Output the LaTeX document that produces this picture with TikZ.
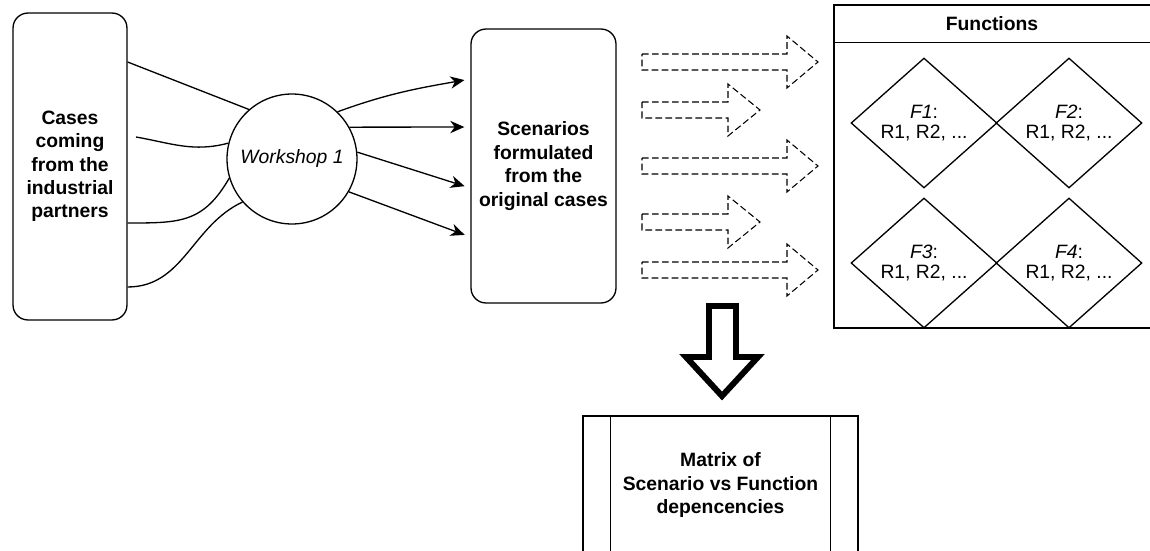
\documentclass[tikz,border=0pt]{standalone}
\usepackage{fontspec}
\setmainfont{Liberation Sans}
\usetikzlibrary{shapes.geometric,arrows.meta,positioning,calc}

\begin{document}
\begin{tikzpicture}[
  x=0.02cm, y=-0.02cm,
  line width=0.75pt,
  every node/.style={font=\fontsize{11}{13.3}\selectfont},
  roundbox/.style={rectangle, draw, rounded corners=0.3cm, align=center,
                   inner sep=0pt, font=\fontsize{11}{13.3}\selectfont\bfseries},
  hub/.style={circle, draw, minimum size=2.6cm, inner sep=0pt,
              font=\fontsize{11}{13}\selectfont\itshape},
  fnbox/.style={rectangle, draw, inner sep=0pt,
                minimum width=6.42cm, minimum height=6.46cm},
  fn/.style={diamond, draw, inner sep=0pt, align=center,
             minimum width=2.92cm, minimum height=2.6cm,
             font=\fontsize{11}{11.6}\selectfont},
  mtxbox/.style={rectangle, draw, align=center, inner sep=0pt,
                 minimum width=5.5cm, minimum height=2.76cm,
                 font=\fontsize{11}{13.3}\selectfont\bfseries},
  flow/.style={draw, line width=0.6pt, dash pattern=on 3.8pt off 1.9pt},
  bigarrow/.style={draw, line width=3.4pt, line join=miter},
  link/.style={draw},
  edge/.style={draw, -{Stealth[length=8pt, width=7pt, inset=2.5pt]},
               shorten >=0.12cm},
]
  \useasboundingbox (0,0) rectangle (1150,551);
  \clip (0,0) rectangle (1150,551);

  % input cases and the workshop
  \node[roundbox, minimum width=2.28cm, minimum height=6.14cm] (cases)
       at (70,166.5) {Cases\\ coming\\ from the\\ industrial\\ partners};
  \node[hub] (ws) at (292,159) {Workshop 1};
  \node[roundbox, minimum width=2.9cm, minimum height=5.48cm] (scen)
       at (543.5,166) {Scenarios\\ formulated\\ from the\\ original cases};

  % functions panel
  \node[fnbox] (func) at (994.5,166.5) {};
  \node[font=\fontsize{11}{13}\selectfont\bfseries] (fhead) at (992,24) {Functions};
  \draw ([yshift=-0.76cm]func.north west) -- ([yshift=-0.76cm]func.north east);
  \node[fn] (f1) at (924,123)  {\textit{F1}:\\ R1, R2, ...};
  \node[fn] (f2) at (1069,123) {\textit{F2}:\\ R1, R2, ...};
  \node[fn] (f3) at (924,263)  {\textit{F3}:\\ R1, R2, ...};
  \node[fn] (f4) at (1069,263) {\textit{F4}:\\ R1, R2, ...};

  % result matrix
  \node[mtxbox] (mtx) at (720.5,485)
       {Matrix of\\ Scenario vs Function\\ depencencies};
  \draw ([xshift=0.56cm]mtx.north west) -- ([xshift=0.56cm]mtx.south west);
  \draw ([xshift=-0.56cm]mtx.north east) -- ([xshift=-0.56cm]mtx.south east);

  % cases into the workshop
  \coordinate (loose) at (136,137);
  \draw[link] ([yshift=2.09cm]cases.east) -- (ws.131);
  \draw[link] (loose) to[out=-10, in=195] (ws.166);
  \draw[link] ([yshift=-1.13cm]cases.east) to[out=0, in=240, looseness=1.2] (ws.197);
  \draw[link] ([yshift=-2.41cm]cases.east) to[out=0, in=205] (ws.221);

  % workshop out to the scenarios
  \draw[edge] (ws.46) to[out=20, in=190] ([yshift=1.74cm]scen.west);
  \draw[edge] (ws.29) -- ([yshift=0.78cm]scen.west);
  \draw[edge] (ws.6) -- ([yshift=-0.44cm]scen.west);
  \draw[edge] (ws.330) -- ([yshift=-1.42cm]scen.west);

  % dashed block arrows towards the functions
  \foreach \yc/\hs/\tx in {62/787/818, 110/728/760, 166/787/818,
                           222/728/760, 270/787/818}
    \draw[flow] (642,\yc-8) -- (\hs,\yc-8) -- (\hs,\yc-26) -- (\tx,\yc)
                -- (\hs,\yc+26) -- (\hs,\yc+8) -- (642,\yc+8) -- cycle;

  % big arrow down to the matrix
  \draw[bigarrow] (709,306) -- (736,306) -- (736,357) -- (758,357)
                  -- (722,396) -- (686,357) -- (709,357) -- cycle;

\end{tikzpicture}
\end{document}
